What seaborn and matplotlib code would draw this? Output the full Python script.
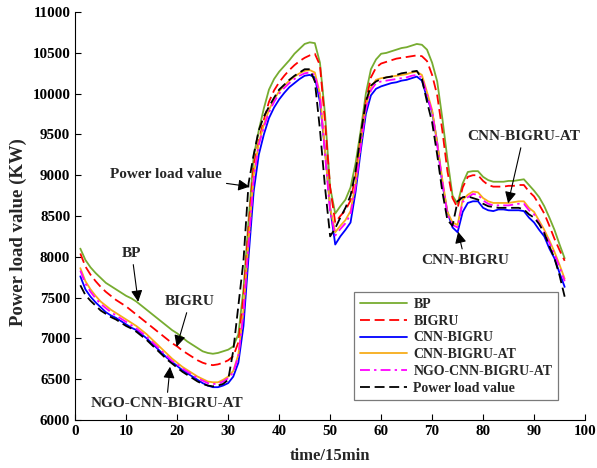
import numpy as np
import pandas as pd
import matplotlib
matplotlib.use("Agg")
import matplotlib.pyplot as plt
import seaborn as sns

time_steps = list(range(1, 97))

bp = [8100, 7960, 7870, 7800, 7740, 7680, 7640, 7600, 7560, 7520,
      7490, 7450, 7400, 7350, 7300, 7250, 7200, 7150, 7100, 7060,
      7010, 6960, 6920, 6880, 6840, 6820, 6810, 6820, 6840, 6860,
      6900, 7050, 7600, 8450, 9230, 9550, 9820, 10050, 10180, 10270,
      10340, 10410, 10490, 10550, 10610, 10630, 10620, 10380, 9750, 8850,
      8530, 8620, 8700, 8850, 9150, 9550, 10000, 10300, 10420, 10490,
      10500, 10520, 10540, 10560, 10570, 10590, 10610, 10600, 10540, 10380,
      10150, 9700, 9200, 8750, 8650, 8900, 9040, 9050, 9050, 8980,
      8940, 8920, 8920, 8920, 8930, 8930, 8940, 8950, 8880, 8810,
      8730, 8620, 8480, 8330, 8150, 7980]

bigru = [8040, 7880, 7780, 7700, 7630, 7570, 7520, 7470, 7430, 7390,
         7340, 7290, 7240, 7190, 7140, 7090, 7040, 6990, 6940, 6900,
         6850, 6810, 6770, 6730, 6700, 6680, 6670, 6680, 6700, 6730,
         6780, 6950, 7500, 8350, 9120, 9420, 9680, 9900, 10040, 10140,
         10220, 10290, 10350, 10400, 10440, 10470, 10490, 10350, 9650, 8850,
         8420, 8500, 8570, 8690, 9000, 9450, 9900, 10200, 10320, 10370,
         10390, 10410, 10430, 10440, 10450, 10460, 10470, 10460, 10400, 10230,
         9980, 9550, 9050, 8720, 8600, 8850, 8980, 9000, 9000, 8930,
         8880, 8860, 8860, 8860, 8870, 8870, 8880, 8880, 8800, 8740,
         8640, 8530, 8380, 8220, 8080, 7950]

cnn_bigru = [7760, 7600, 7510, 7440, 7380, 7320, 7280, 7250, 7210, 7170,
             7130, 7100, 7050, 7000, 6940, 6880, 6820, 6760, 6710, 6660,
             6610, 6570, 6530, 6490, 6450, 6420, 6400, 6400, 6420, 6450,
             6530, 6700, 7150, 8000, 8800, 9250, 9500, 9700, 9830, 9930,
             10010, 10080, 10130, 10180, 10220, 10230, 10200, 9900, 9300, 8600,
             8150, 8250, 8330, 8420, 8800, 9300, 9750, 9980, 10060, 10090,
             10110, 10130, 10140, 10160, 10170, 10190, 10210, 10160, 9950, 9780,
             9400, 8900, 8550, 8360, 8300, 8550, 8660, 8680, 8680, 8600,
             8570, 8560, 8580, 8580, 8570, 8570, 8570, 8560, 8480, 8420,
             8330, 8250, 8100, 7980, 7800, 7630]

cnn_bigru_at = [7860, 7700, 7600, 7520, 7450, 7400, 7350, 7310, 7270, 7230,
                7190, 7150, 7100, 7050, 6990, 6930, 6870, 6810, 6750, 6700,
                6650, 6610, 6570, 6530, 6500, 6470, 6460, 6460, 6490, 6530,
                6600, 6800, 7350, 8200, 9000, 9400, 9620, 9800, 9930, 10030,
                10100, 10160, 10210, 10250, 10280, 10290, 10260, 10000, 9300, 8600,
                8300, 8380, 8450, 8560, 8900, 9400, 9850, 10080, 10170, 10190,
                10200, 10210, 10220, 10230, 10240, 10260, 10270, 10230, 10020, 9800,
                9400, 8950, 8550, 8420, 8390, 8700, 8760, 8800, 8790, 8720,
                8680, 8660, 8660, 8660, 8660, 8670, 8680, 8680, 8600, 8550,
                8440, 8330, 8200, 8060, 7900, 7730]

ngo_cnn_bigru_at = [7830, 7670, 7570, 7490, 7420, 7370, 7320, 7280, 7240, 7200,
                    7160, 7120, 7070, 7020, 6960, 6900, 6840, 6780, 6720, 6680,
                    6630, 6590, 6550, 6510, 6480, 6450, 6440, 6440, 6470, 6510,
                    6580, 6780, 7300, 8150, 8950, 9370, 9590, 9770, 9900, 10000,
                    10070, 10130, 10180, 10220, 10250, 10260, 10230, 9970, 9250, 8550,
                    8260, 8340, 8410, 8520, 8860, 9360, 9810, 10040, 10130, 10150,
                    10160, 10170, 10180, 10190, 10200, 10220, 10230, 10200, 9990, 9770,
                    9370, 8920, 8520, 8390, 8360, 8670, 8730, 8770, 8760, 8690,
                    8650, 8630, 8630, 8630, 8630, 8640, 8650, 8650, 8570, 8520,
                    8410, 8300, 8170, 8030, 7870, 7700]

power_load = [7650, 7530, 7460, 7400, 7340, 7300, 7260, 7230, 7190, 7150,
              7120, 7080, 7030, 6980, 6920, 6860, 6800, 6740, 6690, 6640,
              6590, 6550, 6510, 6470, 6440, 6420, 6410, 6420, 6440, 6490,
              6850, 7400, 7950, 8900, 9250, 9550, 9720, 9840, 9950, 10050,
              10110, 10170, 10220, 10260, 10300, 10300, 10150, 9560, 8850, 8250,
              8350, 8480, 8600, 8750, 9050, 9500, 9900, 10100, 10150, 10180,
              10200, 10210, 10230, 10250, 10260, 10270, 10280, 10180, 9900, 9650,
              9250, 8800, 8450, 8380, 8680, 8730, 8740, 8720, 8700, 8650,
              8620, 8610, 8600, 8600, 8600, 8600, 8600, 8580, 8520, 8480,
              8400, 8290, 8130, 7980, 7770, 7510]

series_names = ["BP", "BIGRU", "CNN-BIGRU", "CNN-BIGRU-AT", "NGO-CNN-BIGRU-AT", "Power load value"]
series_values = [bp, bigru, cnn_bigru, cnn_bigru_at, ngo_cnn_bigru_at, power_load]
colors = ["#77AC30", "#FF0000", "#0000FF", "#F7AC1A", "#FF00FF", "#000000"]
styles = ["-", (0, (5.5, 2.6)), "-", "-", (0, (5.5, 2.3, 1.3, 2.3)), (0, (5.5, 2.6))]

x_ticks = list(range(0, 101, 10))
y_ticks = list(range(6000, 11001, 500))

sns.set_style("ticks")
plt.rcParams["font.family"] = ["Liberation Serif", "DejaVu Serif"]
plt.rcParams["font.weight"] = "bold"
plt.rcParams["axes.labelweight"] = "bold"
plt.rcParams["xtick.direction"] = "in"
plt.rcParams["ytick.direction"] = "in"

fig = plt.figure(figsize=(5.97, 4.68), dpi=100)
ax = fig.add_axes([0.126, 0.103, 0.854, 0.871])

for name, vals, c, ls in zip(series_names, series_values, colors, styles):
    df = pd.DataFrame({"time": time_steps, "value": vals})
    sns.lineplot(data=df, x="time", y="value", ax=ax, color=c, linestyle=ls,
                 linewidth=1.3, label=name)

ax.set_xlim(0, 100)
ax.set_ylim(6000, 11000)
ax.set_xticks(x_ticks)
ax.set_yticks(y_ticks)
ax.tick_params(axis="both", labelsize=10.8, length=4, width=0.8, colors="black")
for lab in ax.get_xticklabels() + ax.get_yticklabels():
    lab.set_fontweight("bold")
sns.despine(ax=ax)
for sp in ["left", "bottom"]:
    ax.spines[sp].set_linewidth(0.8)
    ax.spines[sp].set_color("black")

ax.set_xlabel("time/15min", fontsize=12, fontweight="bold")
ax.set_ylabel("Power load value (KW)", fontsize=13.5, fontweight="bold")
ax.xaxis.set_label_coords(0.5, -0.068)
ax.yaxis.set_label_coords(-0.095, 0.46)

leg = ax.legend(loc="lower right", bbox_to_anchor=(0.947, 0.048), fontsize=10,
                handlelength=3.4, labelspacing=0.27, borderpad=0.4,
                handletextpad=0.45, borderaxespad=0, frameon=True, fancybox=False)
leg.get_frame().set_edgecolor("0.35")
leg.get_frame().set_linewidth(0.9)
for t in leg.get_texts():
    t.set_fontweight("bold")

arrow = dict(arrowstyle="-|>", color="black", lw=0.8, mutation_scale=17,
             shrinkA=1, shrinkB=0)
ann_fs = 11
ax.annotate("BP", xy=(12.35, 7448), xytext=(11.1, 8040), ha="center", va="center",
            fontsize=ann_fs, fontweight="bold", arrowprops=arrow)
ax.annotate("BIGRU", xy=(19.9, 6896), xytext=(22.5, 7450), ha="center", va="center",
            fontsize=ann_fs, fontweight="bold", arrowprops=arrow)
ax.annotate("NGO-CNN-BIGRU-AT", xy=(18.6, 6651), xytext=(17.9, 6200), ha="center", va="center",
            fontsize=ann_fs, fontweight="bold", arrowprops=arrow)
ax.annotate("Power load value", xy=(34.2, 8860), xytext=(17.8, 9003), ha="center", va="center",
            fontsize=ann_fs, fontweight="bold", arrowprops=arrow)
ax.annotate("CNN-BIGRU-AT", xy=(84.9, 8656), xytext=(87.9, 9473), ha="center", va="center",
            fontsize=ann_fs, fontweight="bold", arrowprops=arrow)
ax.annotate("CNN-BIGRU", xy=(75.1, 8307), xytext=(76.4, 7960), ha="center", va="center",
            fontsize=ann_fs, fontweight="bold", arrowprops=arrow)

fig.savefig("out.png", dpi=100)
